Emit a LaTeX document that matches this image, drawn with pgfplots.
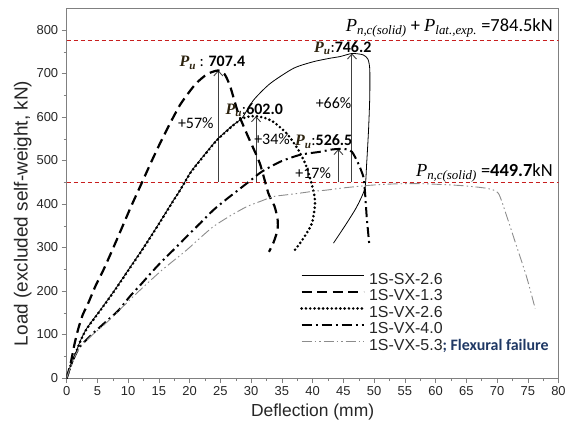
\documentclass[border=0pt]{standalone}
\usepackage{pgfplots}
\pgfplotsset{compat=1.18}
\usetikzlibrary{arrows.meta}
\usepackage{fontspec}
\setmainfont{Liberation Sans}
\newfontfamily\carlito{Carlito}
\newfontfamily\cam{Liberation Serif}
\definecolor{navy}{RGB}{31,56,100}
\definecolor{pubrown}{RGB}{45,35,15}
\definecolor{redline}{RGB}{200,30,30}
\newcommand\Pu{{\color{pubrown}\cam\bfseries\itshape P\textsubscript{u}}}
\newcommand\Psub[1]{{\cam\itshape P\textsubscript{#1}}}
\begin{document}
\begin{tikzpicture}
\begin{axis}[
  at={(0,0)}, anchor=south west,
  scale only axis, width=491.8bp, height=369.75bp,
  xmin=0, xmax=80, ymin=0, ymax=850,
  xtick={0,5,...,80}, ytick={0,100,...,800},
  minor x tick num=1, minor y tick num=1,
  tick align=outside, xtick pos=bottom, ytick pos=left,
  major tick length=5bp, minor tick length=3bp,
  axis line style={gray}, every tick/.style={gray},
  tick label style={font=\fontsize{13}{15}\selectfont, black!85},
  /pgf/number format/assume math mode=true,
  xlabel={Deflection (mm)},
  ylabel={Load (excluded self-weight, kN)},
  xlabel style={font=\fontsize{17.5}{19}\selectfont, at={(axis description cs:0.5,-0.092)}, anchor=center, black!85},
  ylabel style={font=\fontsize{19}{21}\selectfont, at={(axis description cs:-0.0895,0.445)}, anchor=center, black!85},
  legend cell align=left,
  legend style={draw=none, fill=none, inner sep=0pt, anchor=north west,
    at={(axis description cs:0.4744,0.288)}, row sep=0pt, column sep=3bp,
    font=\fontsize{16}{18}\selectfont, text=black!85,
    nodes={inner sep=1bp, text height=11.5bp, text depth=3bp}},
  legend image code/.code={\draw[#1] (0bp,4.5bp) -- (62bp,4.5bp);},
]
% reference lines
\addplot[redline, line width=0.8bp, dash pattern=on 4bp off 3bp, forget plot] coordinates {(0,777) (80,777)};
\addplot[redline, line width=0.8bp, dash pattern=on 4bp off 3bp, forget plot] coordinates {(0,449.7) (80,449.7)};
% arrows
\addplot[black!75, line width=0.9bp, -{Straight Barb[length=5bp,width=9bp]}, forget plot] coordinates {(24.66,449.7) (24.66,707.4)};
\addplot[black!75, line width=0.9bp, -{Straight Barb[length=5bp,width=9bp]}, forget plot] coordinates {(30.8,449.7) (30.8,602.0)};
\addplot[black!75, line width=0.9bp, -{Straight Barb[length=5bp,width=9bp]}, forget plot] coordinates {(44.2,449.7) (44.2,526.5)};
\addplot[black!75, line width=0.9bp, -{Straight Barb[length=5bp,width=9bp]}, forget plot] coordinates {(46.4,449.7) (46.4,746.2)};
% 1S-SX-2.6
\addplot[black, line width=0.8bp, smooth, tension=0.4] coordinates {
(0,0) (0.6,28) (1.35,53) (2.2,85) (3.25,114) (5.4,155) (7.6,198) (10,248) (12.5,300) (15,355) (17.2,405) (18.46,432) (20.1,472) (21.7,501) (24.4,547) (27.1,582) (28.5,597) (30.4,639) (33.1,677) (36.9,712) (40.1,727) (42.8,735) (44.5,739) (46.4,746) (48.2,743) (49.0,733) (49.3,710) (49.3,647) (49.1,570) (48.8,494) (48.5,436) (47.2,394) (45.55,356) (43.4,310)};
\addlegendentry{1S-SX-2.6}
% 1S-VX-1.3
\addplot[black, line width=2.2bp, dash pattern=on 10bp off 5.5bp, smooth, tension=0.4] coordinates {
(0,0) (0.5,25) (0.81,45) (1.3,80) (1.9,114) (2.6,145) (3.5,172) (4.7,212) (5.96,248) (7.2,287) (8.67,335) (10.4,392) (12.2,448) (13.7,495) (15.2,540) (16.8,585) (18.4,627) (19.8,655) (21.1,678) (22.9,699) (24.66,707) (25.7,698) (26.6,670) (27.9,609) (29.5,555) (31.4,494) (32.8,425) (33.8,395) (34.3,365) (34.3,340) (33.6,310) (32.9,290)};
\addlegendentry{1S-VX-1.3}
% 1S-VX-2.6
\addplot[black, line width=2.9bp, line cap=round, dash pattern=on 0bp off 4.3bp, smooth, tension=0.4] coordinates {
(0,0) (0.6,27) (1.35,52) (2.2,84) (3.25,113) (5.4,154) (7.6,197) (10,247) (12.5,299) (15,354) (17.2,404) (18.46,432) (20.1,471) (21.7,500) (24.4,546) (27.1,581) (28.5,596) (29.7,601) (30.8,602) (32.2,598) (33.6,589) (35.8,562) (37.7,524) (39.0,486) (40.1,432) (40.4,402) (39.9,356) (38.5,321) (37.1,294)};
\addlegendentry{1S-VX-2.6}
% 1S-VX-4.0
\addplot[black, line width=2bp, dash pattern=on 10bp off 4bp on 2bp off 4bp, smooth, tension=0.4] coordinates {
(0,0) (0.6,26) (1.2,47) (2.16,72) (4,99) (5.96,124) (8.4,155) (10.3,188) (12,214) (13.5,238) (15.2,264) (17.9,302) (19.8,329) (21.8,357) (23.85,386) (25.9,410) (27.9,432) (29.8,453) (31.7,474) (34.7,497) (37.95,513) (41.2,520) (43,525) (44.2,526.5) (45.4,526) (46.4,520) (47.4,494) (48.25,463) (48.5,432) (48.8,371) (49.2,310)};
\addlegendentry{1S-VX-4.0}
% 1S-VX-5.3
\addplot[black!45, line width=0.9bp, dash pattern=on 10bp off 3bp on 1.5bp off 3bp on 1.5bp off 3bp, smooth, tension=0.4] coordinates {
(0,0) (0.6,25) (1.2,46) (2.16,71) (4,97) (6,121) (9,162) (12,203) (15.5,248) (19.5,294) (21.7,322) (23.85,348) (26.5,372) (29.3,394) (31.5,406) (33.6,417) (35.7,421) (37.95,425) (40,429) (42.3,432) (45,437) (49.3,443) (53,446) (57,447) (60.7,445) (64.5,442) (68.3,436) (70.2,425) (71.6,371) (73.2,302) (74.8,233) (76.2,160)};
\addlegendentry{1S-VX-5.3{\carlito\bfseries\color{navy}; Flexural failure}}
% annotations
\node[font=\carlito\fontsize{16}{18}\selectfont, inner sep=0pt] at (axis cs:23.7,725) {\Pu\ : \textbf{707.4}};
\node[font=\carlito\fontsize{16}{18}\selectfont, inner sep=0pt] at (axis cs:21.0,585) {+57\%};
\node[font=\carlito\fontsize{16}{18}\selectfont, inner sep=0pt] at (axis cs:30.5,616) {\Pu:\textbf{602.0}};
\node[font=\carlito\fontsize{16}{18}\selectfont, inner sep=0pt] at (axis cs:33.4,549) {+34\%};
\node[font=\carlito\fontsize{16}{18}\selectfont, inner sep=0pt] at (axis cs:41.8,543) {\Pu:\textbf{526.5}};
\node[font=\carlito\fontsize{16}{18}\selectfont, inner sep=0pt] at (axis cs:40.1,470) {+17\%};
\node[font=\carlito\fontsize{16}{18}\selectfont, inner sep=0pt] at (axis cs:43.4,631) {+66\%};
\node[font=\carlito\fontsize{16}{18}\selectfont, inner sep=0pt] at (axis cs:44.9,758) {\Pu:\textbf{746.2}};
\node[font=\carlito\fontsize{18.5}{20}\selectfont, inner sep=0pt, anchor=east] at (axis cs:79.1,805) {\Psub{n,c(solid)} + \Psub{lat.,exp.} =784.5kN};
\node[font=\carlito\fontsize{18.5}{20}\selectfont, inner sep=0pt, anchor=east] at (axis cs:79.1,471) {\Psub{n,c(solid)} =\textbf{449.7}kN};
\end{axis}
\pgfresetboundingbox
\path[use as bounding box] (-66.7bp,-48bp) rectangle (508.3bp,378bp);
\end{tikzpicture}
\end{document}
